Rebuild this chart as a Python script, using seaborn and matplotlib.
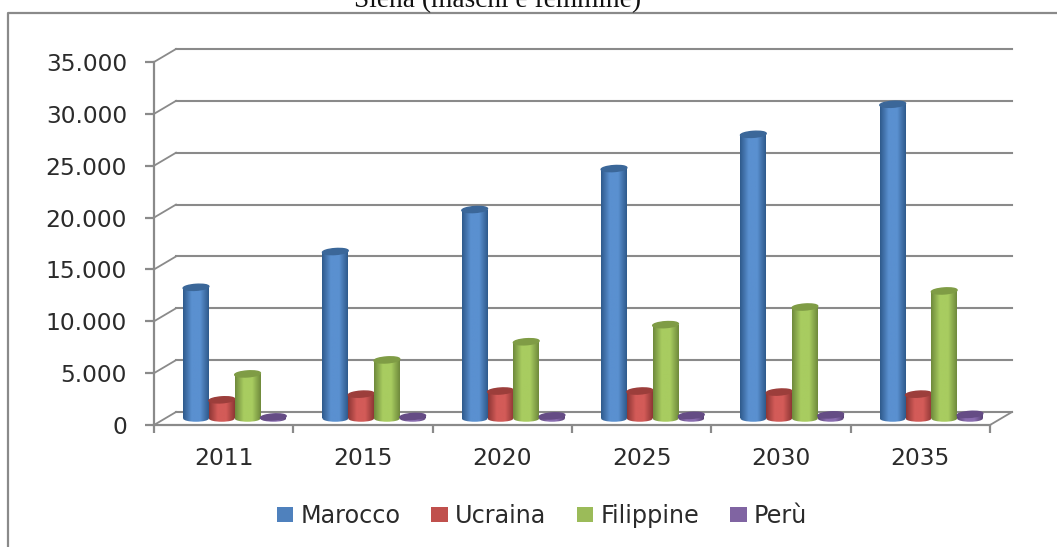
import numpy as np
import pandas as pd
import matplotlib
matplotlib.use("Agg")
import matplotlib.pyplot as plt
import seaborn as sns
from matplotlib.colors import LinearSegmentedColormap
from matplotlib.lines import Line2D
from matplotlib.patches import Ellipse, Rectangle
from matplotlib.transforms import Affine2D, IdentityTransform

years = ["2011", "2015", "2020", "2025", "2030", "2035"]
marocco = [12650, 16100, 20150, 24100, 27400, 30300]
ucraina = [1800, 2350, 2650, 2650, 2550, 2350]
filippine = [4300, 5650, 7400, 9050, 10750, 12300]
peru = [150, 200, 250, 300, 350, 400]
y_ticks = [0, 5000, 10000, 15000, 20000, 25000, 30000, 35000]
y_labels = ["0", "5.000", "10.000", "15.000", "20.000", "25.000", "30.000", "35.000"]
title = "Siena (maschi e femmine)"

# base, dark edge, light centre, top of the cylinder
shades = {
    "Marocco": ("#4F81BD", "#2F5A8C", "#5A90D0", "#3B6799"),
    "Ucraina": ("#C0504D", "#8E3735", "#D35B58", "#9C3E3B"),
    "Filippine": ("#9BBB59", "#6F8A3C", "#A8CC60", "#7F9C45"),
    "Perù": ("#8064A2", "#5A4378", "#8A6DB0", "#654C85"),
}
GREY = "#8A8A8A"
TEXT = "#2B2B2B"

df = pd.DataFrame({"year": years * 4,
                   "country": sum([[c] * 6 for c in shades], []),
                   "value": marocco + ucraina + filippine + peru})

W, H = 1057, 547
fig = plt.figure(figsize=(W / 100, H / 100), dpi=100)
plt.rcParams["font.family"] = "DejaVu Sans"


def axes_box(x0, x1, y_top, y_bottom):
    return [x0 / W, 1 - y_bottom / H, (x1 - x0) / W, (y_bottom - y_top) / H]


# front plane carries spines, ticks and labels
front = fig.add_axes(axes_box(154, 990, 62, 425))
front.set_xlim(-0.5, 5.5)
front.set_ylim(0, 35000)
front.patch.set_visible(False)
for side in ["top", "right"]:
    front.spines[side].set_visible(False)
for side in ["left", "bottom"]:
    front.spines[side].set_color(GREY)
    front.spines[side].set_linewidth(1.6)
front.set_yticks(y_ticks, y_labels)
front.set_xticks(range(6), years)
front.set_xticks(np.arange(-0.5, 6), minor=True)
front.tick_params(axis="y", length=6.5, width=1.6, color=GREY, pad=13, labelsize=16.8, labelcolor=TEXT)
front.tick_params(axis="x", which="major", length=0, pad=16, labelsize=16.8, labelcolor=TEXT)
front.tick_params(axis="x", which="minor", length=6, width=1.6, color=GREY)

# back wall gridlines and floor edges
back = front.transData + Affine2D().translate(22, 13)
for v in y_ticks:
    front.plot([-0.5, 5.5], [v, v], color=GREY, lw=1.5, transform=back, clip_on=False, zorder=1)
    p = front.transData.transform((-0.5, v))
    front.add_line(Line2D([p[0], p[0] + 22], [p[1], p[1] + 13], color=GREY, lw=1.3,
                          transform=IdentityTransform(), clip_on=False))
p = front.transData.transform((5.5, 0))
front.add_line(Line2D([p[0], p[0] + 22], [p[1], p[1] + 13], color=GREY, lw=1.3,
                      transform=IdentityTransform(), clip_on=False))

# bars sit half way through the depth
ax = fig.add_axes(axes_box(165, 1001, 55.5, 418.5))
ax.patch.set_visible(False)
sns.barplot(data=df, x="year", y="value", hue="country", palette=[s[0] for s in shades.values()],
            width=0.74, gap=0, saturation=1, ax=ax)
ax.set_xlim(-0.5, 5.5)
ax.set_ylim(0, 35000)
ax.axis("off")
handles, labels = ax.get_legend_handles_labels()
ax.get_legend().remove()

px_per_unit = 363 / 35000
ell_h = 6.5 / px_per_unit
n_years = len(years)
for name, patch in zip(np.repeat(list(shades), n_years), ax.patches):
    base, dark, light, top = shades[name]
    cmap = LinearSegmentedColormap.from_list(name, [dark, light, light, dark])
    x, w, h = patch.get_x(), patch.get_width(), patch.get_height()
    z = 3 + list(shades).index(name)
    grad = np.linspace(0, 1, 64).reshape(1, -1)
    for clip in [Rectangle((x, 0), w, h, transform=ax.transData),
                 Ellipse((x + w / 2, 0), w, ell_h, transform=ax.transData)]:
        im = ax.imshow(grad, extent=(x, x + w, -ell_h, max(h, 1)), cmap=cmap, aspect="auto", zorder=z)
        im.set_clip_box(fig.bbox)
        im.set_clip_path(clip)
    # the cylinder top leans a little, so it is drawn in pixels
    ax.set_xlim(-0.5, 5.5)
    ax.set_ylim(0, 35000)
    c = ax.transData.transform((x + w / 2, h))
    w_px = ax.transData.transform((x + w, 0))[0] - ax.transData.transform((x, 0))[0]
    ax.add_patch(Ellipse(c, w_px, 6, angle=4, color=top, zorder=z, clip_on=False,
                         transform=IdentityTransform()))
    patch.set_visible(False)
ax.set_xlim(-0.5, 5.5)
ax.set_ylim(0, 35000)

fig.legend(handles, labels, ncol=4, frameon=False, fontsize=17.2, labelcolor=TEXT,
           loc="center", bbox_to_anchor=(542 / W, 1 - 516 / H),
           handlelength=0.68, handleheight=0.6, handletextpad=0.3, columnspacing=1.3)

# outer chart border, the title is cut by the top of the picture
fig.add_artist(Line2D([8 / W, 8 / W, 1], [0, 1 - 13 / H, 1 - 13 / H], color=GREY, lw=1.6))
fig.text(498 / W, 1 - 7 / H, title, family="Liberation Serif", fontsize=19.7, color="#111111",
         ha="center", va="baseline")

fig.savefig("out.png", dpi=100)
